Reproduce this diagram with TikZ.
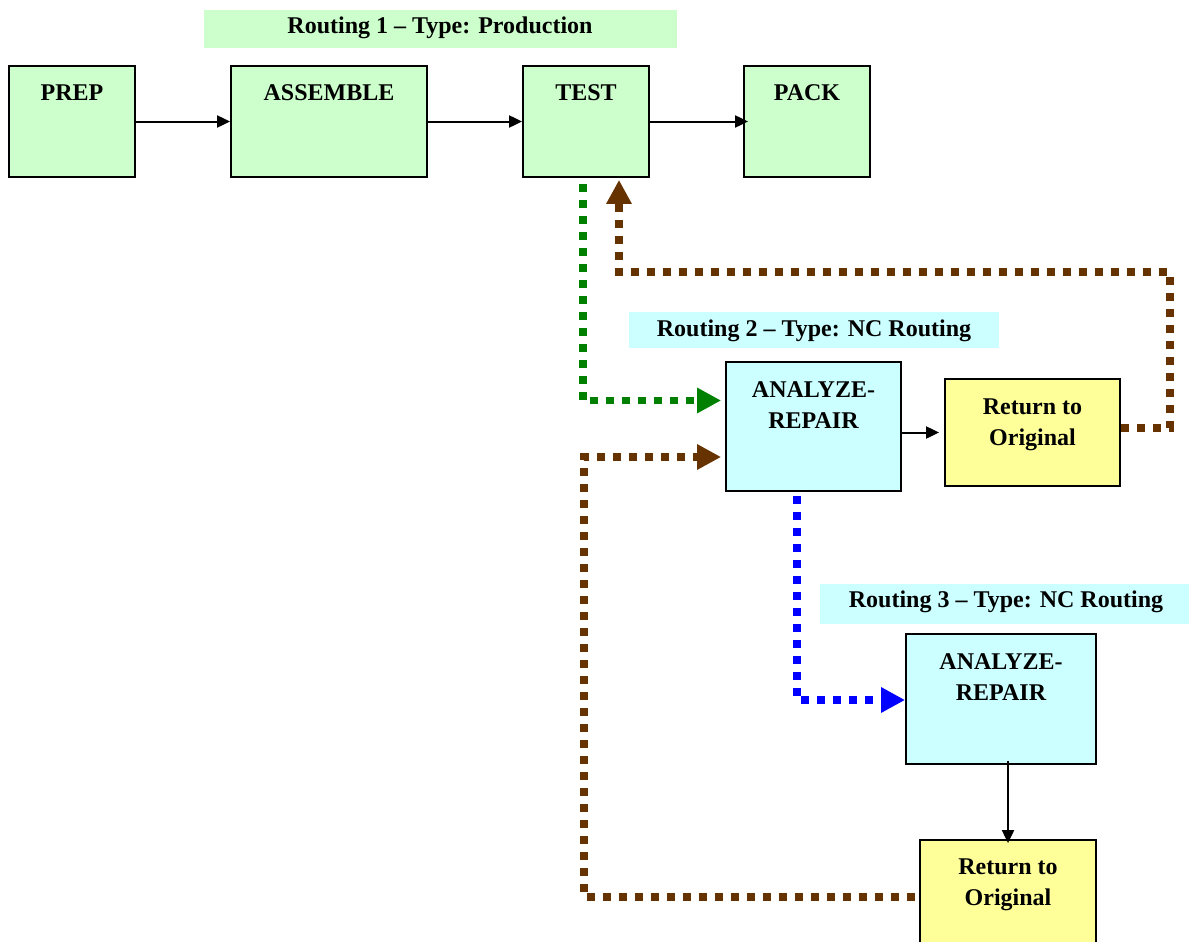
\documentclass[tikz,border=0pt]{standalone}
\usepackage{fontspec}
\setmainfont{Liberation Serif}
\usetikzlibrary{arrows.meta,calc}
\definecolor{pgreen}{HTML}{CCFFCC}
\definecolor{pcyan}{HTML}{CCFFFF}
\definecolor{pyellow}{HTML}{FFFF99}
\definecolor{dgreen}{HTML}{008000}
\definecolor{dbrown}{HTML}{663300}
\definecolor{dblue}{HTML}{0000FF}
\begin{document}
\begin{tikzpicture}[x=1pt,y=-1pt,
  lbl/.style={font=\fontsize{24}{27}\selectfont\bfseries, inner sep=0pt, anchor=base},
  box/.style={draw=black, line width=1.8pt, inner sep=0pt},
  banner/.style={inner sep=0pt},
  flow/.style={line width=2pt, -{Triangle[length=13pt,width=12pt]}},
  dots/.style={line width=7.5pt, dash pattern=on 8pt off 8pt, -{Triangle[length=24pt,width=24pt]}}
]
\useasboundingbox (0,0) rectangle (1189,942);

% banners
\node[banner, fill=pgreen, minimum width=473pt, minimum height=38pt] (b1) at (440.5,29) {};
\node[lbl] (b1t) at (440,34) {Routing 1 -- Type: Production};
\node[banner, fill=pcyan, minimum width=370pt, minimum height=36pt] (b2) at (814,330) {};
\node[lbl] (b2t) at (814,336) {Routing 2 -- Type: NC Routing};
\node[banner, fill=pcyan, minimum width=369pt, minimum height=40pt] (b3) at (1004.5,604) {};
\node[lbl] (b3t) at (1006,607) {Routing 3 -- Type: NC Routing};

% routing 1
\node[box, fill=pgreen, minimum width=126pt, minimum height=111pt] (prep) at (72,121.5) {};
\node[lbl] (prept) at (72,100) {PREP};
\node[box, fill=pgreen, minimum width=196pt, minimum height=111pt] (asm) at (329,121.5) {};
\node[lbl] (asmt) at (329,100) {ASSEMBLE};
\node[box, fill=pgreen, minimum width=126pt, minimum height=111pt] (test) at (586,121.5) {};
\node[lbl] (testt) at (586,100) {TEST};
\node[box, fill=pgreen, minimum width=126pt, minimum height=111pt] (pack) at (807,121.5) {};
\node[lbl] (packt) at (807,100) {PACK};

% routing 2
\node[box, fill=pcyan, minimum width=175pt, minimum height=129pt] (ar1) at (813.5,426.5) {};
\node[lbl] (ar1a) at (813.5,397) {ANALYZE-};
\node[lbl] (ar1b) at (813.5,428) {REPAIR};
\node[box, fill=pyellow, minimum width=175pt, minimum height=107pt] (ret1) at (1032.5,432.5) {};
\node[lbl] (ret1a) at (1032.5,414) {Return to};
\node[lbl] (ret1b) at (1032.5,445) {Original};

% routing 3
\node[box, fill=pcyan, minimum width=190pt, minimum height=130pt] (ar2) at (1001,699) {};
\node[lbl] (ar2a) at (1001,669) {ANALYZE-};
\node[lbl] (ar2b) at (1001,700) {REPAIR};
\node[box, fill=pyellow, minimum width=176pt, minimum height=112pt] (ret2) at (1008,896) {};
\node[lbl] (ret2a) at (1008,874) {Return to};
\node[lbl] (ret2b) at (1008,905) {Original};

% solid flow arrows
\draw[flow] (prep.east) -- (asm.west);
\draw[flow] (asm.east) -- (test.west);
\draw[flow] (test.east) -- ([xshift=5pt]pack.west);
\draw[flow] (ret1.west -| ar1.east) -- ([xshift=-5pt]ret1.west);
\draw[flow] ([yshift=4pt]ret2.north |- ar2.south) -- ([yshift=-4pt]ret2.north);

% dotted routing connectors
\draw[dots, draw=dgreen] ($(test.south)+(-3,6)$) |- ($(ar1.west)+(-4,-26)$);
\draw[dots, draw=dbrown] ($(ret1.east)+(0,-4.5)$) -- (1170,428) -- (1170,272) -- (619,272) -- ($(test.south)+(33,2)$);
\draw[dots, draw=dbrown] ($(ret2.west)+(-4,1)$) -- (584,897) |- ($(ar1.west)+(-4,30.5)$);
\draw[dots, draw=dblue] ($(ar1.south)+(-16.5,4)$) |- ($(ar2.west)+(0,1)$);
\end{tikzpicture}
\end{document}
